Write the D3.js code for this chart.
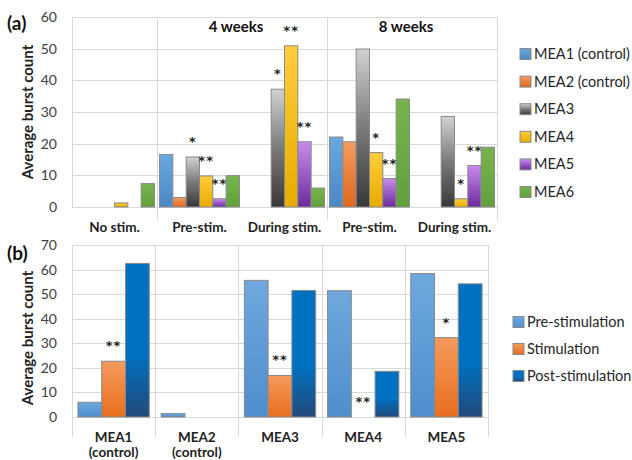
<!DOCTYPE html>
<html>
<head>
<meta charset="utf-8">
<script src="https://cdn.jsdelivr.net/npm/d3@7"></script>
<style>
  body { margin: 0; background: #fff; }
  svg { font-family: Lato, "Open Sans", sans-serif; }
</style>
</head>
<body>
<svg id="chart" width="632" height="460"></svg>
<script>
// values

// panel (a)
var topCategories = ['No stim.', 'Pre-stim.', 'During stim.', 'Pre-stim.', 'During stim.'];
var topGroups = ['4 weeks', '8 weeks'];
var topGroupStart = [1, 3];
var topSeries = ['MEA1 (control)', 'MEA2 (control)', 'MEA3', 'MEA4', 'MEA5', 'MEA6'];
var mea1 = [0, 16.6, 0, 22.1, 0];
var mea2 = [0, 3.0, 0, 20.6, 0];
var mea3 = [0, 15.8, 37.2, 49.9, 28.6];
var mea4 = [1.3, 9.8, 50.9, 17.2, 2.6];
var mea5 = [0, 2.6, 20.6, 9.0, 13.1];
var mea6 = [7.4, 9.9, 6.0, 34.1, 18.9];
var topValues = [mea1, mea2, mea3, mea4, mea5, mea6];
var topTicks = [0, 10, 20, 30, 40, 50, 60];
// [series index, category index, mark]
var topSig = [[2, 1, '*'], [3, 1, '**'], [4, 1, '**'],
              [2, 2, '*'], [3, 2, '**'], [4, 2, '**'],
              [3, 3, '*'], [4, 3, '**'],
              [3, 4, '*'], [4, 4, '**']];

// panel (b)
var bottomCategories = ['MEA1', 'MEA2', 'MEA3', 'MEA4', 'MEA5'];
var bottomSubLabels = ['(control)', '(control)', '', '', ''];
var bottomSeries = ['Pre-stimulation', 'Stimulation', 'Post-stimulation'];
var preStim = [6.0, 1.4, 55.6, 51.4, 58.4];
var duringStim = [22.7, 0, 16.9, 0, 32.3];
var postStim = [62.5, 0, 51.5, 18.6, 54.2];
var bottomValues = [preStim, duringStim, postStim];
var bottomTicks = [0, 10, 20, 30, 40, 50, 60, 70];
var bottomSig = [[1, 0, '**'], [1, 2, '**'], [1, 3, '**'], [1, 4, '*']];

var svg = d3.select('#chart');
var defs = svg.append('defs');

var addGradient = function(id, stops) {
  var g = defs.append('linearGradient').attr('id', id)
    .attr('x1', 0).attr('y1', 0).attr('x2', 0).attr('y2', 1);
  stops.forEach(function(s) {
    g.append('stop').attr('offset', s[0]).attr('stop-color', s[1]);
  });
};

var topGrad = [
  [[0, '#6aa8de'], [1, '#4a88c6']],
  [[0, '#f49c60'], [1, '#e0661c']],
  [[0, '#d2d2d2'], [0.5, '#7a7a7a'], [1, '#383838']],
  [[0, '#ffcd3c'], [1, '#e8ac00']],
  [[0, '#c98ceb'], [1, '#6a2b9c']],
  [[0, '#78b44e'], [1, '#60a03a']]
];
topGrad.forEach(function(s, i) { addGradient('gt' + i, s); });

var bottomGrad = [
  [[0, '#6ea8de'], [1, '#4f8ecd']],
  [[0, '#f59a5c'], [1, '#e86e1e']],
  [[0, '#0070c0'], [0.6, '#0070c0'], [1, '#22497a']]
];
bottomGrad.forEach(function(s, i) { addGradient('gb' + i, s); });

var gridColor = '#d9d9d9';
var tickColor = '#404040';

// draws one panel
var panel = function(opt) {
  var g = svg.append('g');
  var y = d3.scaleLinear().domain([0, opt.max]).range([opt.y0, opt.yTop]);
  var x = d3.scaleBand().domain(d3.range(opt.categories.length))
    .range([opt.x0, opt.x1]);
  var xi = d3.scaleBand().domain(d3.range(opt.values.length))
    .range([0, x.bandwidth()]).paddingOuter(opt.outer);

  // grid
  g.selectAll('.grid').data(opt.ticks).enter().append('line')
    .attr('x1', opt.x0).attr('x2', opt.x1)
    .attr('y1', function(d) { return Math.round(y(d)) + 0.5; })
    .attr('y2', function(d) { return Math.round(y(d)) + 0.5; })
    .attr('stroke', gridColor).attr('stroke-width', 1);

  // vertical lines
  g.selectAll('.vline').data(opt.vlines).enter().append('line')
    .attr('x1', function(d) { return Math.round(d[0]) + 0.5; })
    .attr('x2', function(d) { return Math.round(d[0]) + 0.5; })
    .attr('y1', opt.yTop).attr('y2', function(d) { return d[1]; })
    .attr('stroke', gridColor).attr('stroke-width', 1);

  // y axis labels
  var yAxis = d3.axisLeft(y).tickValues(opt.ticks).tickSize(0).tickPadding(0);
  var ya = g.append('g').attr('transform', 'translate(57,0)').call(yAxis);
  ya.select('.domain').remove();
  ya.selectAll('text').attr('font-size', 14).attr('fill', tickColor)
    .attr('font-family', 'Lato, sans-serif');

  // bars
  opt.values.forEach(function(vals, s) {
    g.selectAll('.bar' + s).data(vals.map(function(v, c) { return { v: v, c: c }; })
        .filter(function(d) { return d.v > 0; }))
      .enter().append('rect')
      .attr('x', function(d) { return x(d.c) + xi(s); })
      .attr('width', xi.bandwidth())
      .attr('y', function(d) { return y(d.v); })
      .attr('height', function(d) { return y(0) - y(d.v); })
      .attr('fill', 'url(#' + opt.grad + s + ')')
      .attr('stroke', '#8a8a8a').attr('stroke-width', 1);
  });

  // significance marks
  g.selectAll('.sig').data(opt.sig).enter().append('text')
    .attr('x', function(d) { return x(d[1]) + xi(d[0]) + xi.bandwidth() / 2; })
    .attr('y', function(d) { return y(opt.values[d[0]][d[1]]) - 11; })
    .attr('text-anchor', 'middle')
    .attr('font-family', '"DejaVu Sans", sans-serif')
    .attr('font-size', 13).attr('font-weight', 'bold')
    .attr('letter-spacing', 1)
    .attr('fill', '#222')
    .text(function(d) { return d[2]; });

  // legend
  var lg = g.append('g');
  opt.series.forEach(function(name, s) {
    var ly = opt.legendY + s * opt.legendStep;
    lg.append('rect').attr('x', opt.legendX).attr('y', ly - 5.5)
      .attr('width', 11).attr('height', 11)
      .attr('fill', 'url(#' + opt.grad + s + ')')
      .attr('stroke', '#8a8a8a').attr('stroke-width', 1);
    lg.append('text').attr('x', opt.legendX + 14).attr('y', ly + 5)
      .attr('font-size', 14.5).attr('fill', '#262626').text(name);
  });

  // axis title and panel letter
  g.append('text')
    .attr('transform', 'translate(33,' + opt.titleY + ') rotate(-90)')
    .attr('text-anchor', 'middle').attr('font-size', 15).attr('font-weight', 'bold')
    .attr('fill', '#222').text('Average burst count');
  g.append('text').attr('x', 7).attr('y', opt.letterY)
    .attr('font-size', 19).attr('font-weight', 'bold').attr('fill', '#111')
    .text(opt.letter);

  return { g: g, x: x, y: y };
};

// panel (a)
var a = panel({
  x0: 72, x1: 497, yTop: 17, y0: 207, max: 60,
  categories: topCategories, values: topValues, ticks: topTicks,
  outer: 0.19, grad: 'gt', sig: topSig, series: topSeries,
  legendX: 520, legendY: 54, legendStep: 27.6,
  titleY: 112, letter: '(a)', letterY: 30,
  vlines: [[72, 207], [157, 220], [327, 220], [497, 220]]
});

a.g.selectAll('.xl').data(topCategories).enter().append('text')
  .attr('x', function(d, i) { return a.x(i) + a.x.bandwidth() / 2; })
  .attr('y', 232)
  .attr('text-anchor', 'middle').attr('font-size', 13.5).attr('font-weight', 'bold')
  .attr('fill', '#222').text(function(d) { return d; });

a.g.selectAll('.grp').data(topGroups).enter().append('text')
  .attr('x', function(d, i) { return a.x(topGroupStart[i]) + a.x.bandwidth() - 6; })
  .attr('y', 32)
  .attr('text-anchor', 'middle').attr('font-size', 15).attr('font-weight', 'bold')
  .attr('fill', '#111').text(function(d) { return d; });

// panel (b)
var bx = d3.scaleBand().domain(d3.range(bottomCategories.length)).range([72, 488]);
var b = panel({
  x0: 72, x1: 488, yTop: 245, y0: 417, max: 70,
  categories: bottomCategories, values: bottomValues, ticks: bottomTicks,
  outer: 0.25, grad: 'gb', sig: bottomSig, series: bottomSeries,
  legendX: 513, legendY: 322, legendStep: 27,
  titleY: 338, letter: '(b)', letterY: 260,
  vlines: d3.range(bottomCategories.length + 1).map(function(i) {
    return [72 + i * bx.bandwidth(), 437];
  })
});

b.g.selectAll('.xl').data(bottomCategories).enter().append('text')
  .attr('x', function(d, i) { return b.x(i) + b.x.bandwidth() / 2; })
  .attr('y', 442)
  .attr('text-anchor', 'middle').attr('font-size', 13.5).attr('font-weight', 'bold')
  .attr('fill', '#222').text(function(d) { return d; });

b.g.selectAll('.xs').data(bottomSubLabels).enter().append('text')
  .attr('x', function(d, i) { return b.x(i) + b.x.bandwidth() / 2; })
  .attr('y', 457)
  .attr('text-anchor', 'middle').attr('font-size', 13.5).attr('font-weight', 'bold')
  .attr('fill', '#222').text(function(d) { return d; });
</script>
</body>
</html>
